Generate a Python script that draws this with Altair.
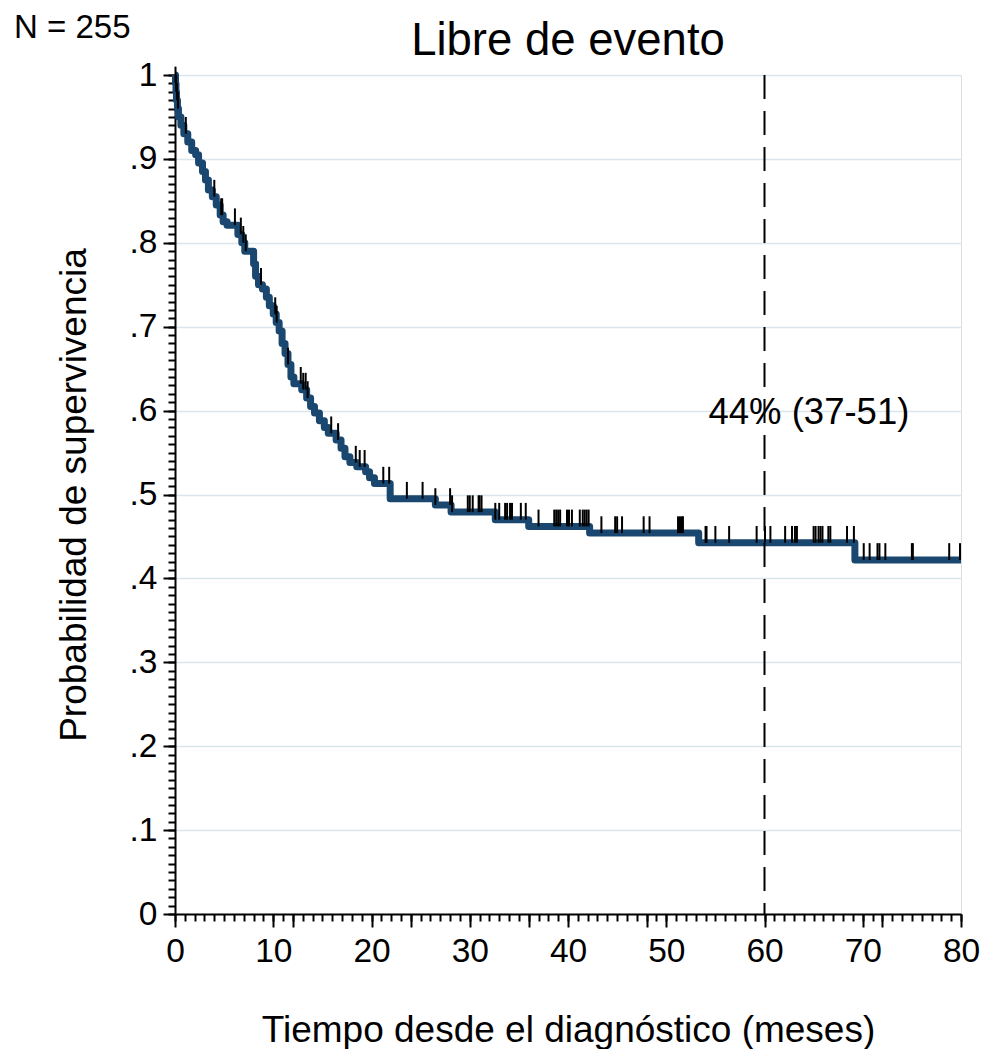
import altair as alt
import numpy as np
import pandas as pd

# Kaplan-Meier step function (time in months, survival after the step)
step_t = [0, 0.05, 0.1, 0.15, 0.25, 0.35, 0.6, 0.9, 1.3, 1.7, 2.1, 2.4, 2.8, 3.1, 3.4,
          3.8, 4.2, 4.6, 4.9, 5.3, 6.4, 6.8, 7.1, 8.0, 8.2, 8.5, 8.9, 9.3, 9.6, 10.0,
          10.3, 10.6, 10.9, 11.2, 11.5, 11.8, 12.1, 12.9, 13.4, 13.8, 14.2, 14.7, 15.2,
          15.6, 16.4, 16.9, 17.3, 17.8, 18.5, 19.4, 19.8, 20.3, 21.9, 26.5, 28.1, 32.6,
          36.0, 42.2, 53.3, 69.2]
step_s = [1.0, 0.99, 0.98, 0.97, 0.96, 0.95, 0.94, 0.93, 0.92, 0.91, 0.905, 0.895, 0.885,
          0.875, 0.863, 0.855, 0.845, 0.833, 0.825, 0.821, 0.81, 0.80, 0.79, 0.775, 0.76,
          0.75, 0.745, 0.735, 0.725, 0.715, 0.705, 0.695, 0.68, 0.668, 0.655, 0.64, 0.632,
          0.625, 0.615, 0.605, 0.597, 0.588, 0.58, 0.573, 0.565, 0.555, 0.545, 0.538,
          0.533, 0.527, 0.52, 0.513, 0.495, 0.4875, 0.479, 0.470, 0.462, 0.454, 0.4425,
          0.422]
end_time = 80

# Censored observations (months)
cens_t = [0.05, 0.12, 0.2, 0.3, 1.1, 4.0, 4.7, 4.8, 6.1, 6.7, 6.95, 7.2, 8.75, 10.2, 10.35,
          11.5, 12.8, 13.05, 13.3, 13.5, 15.9, 16.6, 18.4, 18.8, 19.3, 21.2, 21.8, 23.6,
          25.2, 26.5, 28.0, 28.2, 29.8, 30.0, 30.3, 30.9, 31.0, 31.2, 32.6, 33.0, 33.6,
          33.8, 34.1, 34.3, 35.2, 35.7, 37.0, 38.6, 38.8, 39.0, 39.2, 39.9, 40.1, 40.4,
          41.2, 41.5, 41.7, 41.9, 42.1, 43.4, 44.8, 45.0, 45.5, 47.7, 48.3, 51.2, 51.4,
          51.6, 51.7, 54.0, 54.1, 55.0, 56.4, 59.2, 60.05, 60.6, 62.1, 62.8, 63.1, 63.3,
          65.0, 65.2, 65.5, 65.7, 65.9, 66.5, 66.7, 68.4, 69.1, 70.1, 70.7, 71.5, 71.7,
          72.3, 75.0, 75.1, 78.8, 79.9]

vline_x = [60]
annot_x = [54.3]
annot_y = [0.597]
annot_text = ["44% (37-51)"]
n_text = "N = 255"
title_text = "Libre de evento"

x_major_ticks = [0, 10, 12, 20, 24, 30, 36, 40, 48, 50, 60, 70, 72, 80]
x_minor_ticks = list(range(0, 81))
y_major_ticks = [round(i * 0.1, 1) for i in range(0, 11)]
y_minor_ticks = [round(i * 0.01, 2) for i in range(0, 101)]

FONT = "Liberation Sans"
NAVY = "#1a476f"
W, H = 786, 839

curve_df = pd.DataFrame({"t": step_t + [end_time], "s": step_s + [step_s[-1]]})
idx = np.searchsorted(np.array(step_t), np.array(cens_t), side="right") - 1
cs = np.array(step_s)[idx]
cens_df = pd.DataFrame({"t": cens_t, "s": cs, "s2": cs + 0.02})
vline_df = pd.DataFrame({"x": vline_x})
annot_df = pd.DataFrame({"x": annot_x, "y": annot_y, "text": annot_text})

xscale = alt.Scale(domain=[0, 80], nice=False, zero=False)
yscale = alt.Scale(domain=[0, 1], nice=False)

x_major_axis = alt.Axis(
    orient="bottom", values=x_major_ticks, tickSize=13, tickWidth=2, tickColor="black",
    domainColor="black", domainWidth=2, grid=False,
    labelExpr="datum.value % 10 == 0 ? datum.label : ''", labelFont=FONT,
    labelFontSize=33.5, labelColor="black", labelPadding=8, labelOverlap=False,
    labelFlush=False, labelBound=False,
    title="Tiempo desde el diagnóstico (meses)", titleFont=FONT, titleFontSize=37,
    titleFontWeight="normal", titleColor="black", titlePadding=45)
y_major_axis = alt.Axis(
    orient="left", values=y_major_ticks, tickSize=12, tickWidth=2, tickColor="black",
    domainColor="black", domainWidth=2, grid=True, gridColor="#dbe5ec", gridWidth=1.5,
    labelExpr="datum.value == 0 ? '0' : datum.value == 1 ? '1' : '.' + format(datum.value * 10, '.0f')",
    labelFont=FONT, labelFontSize=33.5, labelColor="black", labelPadding=6,
    labelOverlap=False, labelFlush=False, labelBound=False,
    title="Probabilidad de supervivencia", titleFont=FONT, titleFontSize=37,
    titleFontWeight="normal", titleColor="black", titlePadding=36)
x_minor_axis = alt.Axis(orient="bottom", values=x_minor_ticks, tickSize=7, tickWidth=2,
                        tickColor="black", domain=False, labels=False, grid=False, title=None)
y_minor_axis = alt.Axis(orient="left", values=y_minor_ticks, tickSize=7, tickWidth=2,
                        tickColor="black", domain=False, labels=False, grid=False, title=None)

curve = alt.Chart(curve_df).mark_line(
    interpolate="step-after", color=NAVY, strokeWidth=7, strokeJoin="round"
).encode(
    x=alt.X("t:Q", scale=xscale, axis=x_major_axis),
    y=alt.Y("s:Q", scale=yscale, axis=y_major_axis),
)

cens = alt.Chart(cens_df).mark_rule(color="black", strokeWidth=2).encode(
    x=alt.X("t:Q", scale=xscale, axis=x_minor_axis),
    y=alt.Y("s:Q", scale=yscale, axis=y_minor_axis),
    y2="s2:Q",
)

vline = alt.Chart(vline_df).mark_rule(color="black", strokeWidth=2, strokeDash=[24, 12]).encode(
    x=alt.X("x:Q", scale=xscale, axis=None),
)

annot = alt.Chart(annot_df).mark_text(
    align="left", baseline="middle", font=FONT, fontSize=36.5, color="black"
).encode(
    x=alt.X("x:Q", scale=xscale, axis=None),
    y=alt.Y("y:Q", scale=yscale, axis=None),
    text="text:N",
)

ntext = alt.Chart(pd.DataFrame({"text": [n_text]})).mark_text(
    align="left", baseline="alphabetic", font=FONT, fontSize=33, color="black"
).encode(
    x=alt.value(-161), y=alt.value(-37.5), text="text:N"
)

ttext = alt.Chart(pd.DataFrame({"text": [title_text]})).mark_text(
    align="center", baseline="alphabetic", font=FONT, fontSize=45.5, color="black"
).encode(
    x=alt.value(W / 2), y=alt.value(-20), text="text:N"
)

chart = alt.layer(curve, cens, vline, annot, ntext, ttext).resolve_axis(
    x="independent", y="independent"
).properties(
    width=W, height=H,
    padding={"left": 167, "top": 67, "right": 20, "bottom": 135},
    autosize=alt.AutoSizeParams(type="none"),
).configure_view(stroke=None).configure(background="white")

chart.save("out.html", embed_options={"renderer": "svg", "actions": False})
